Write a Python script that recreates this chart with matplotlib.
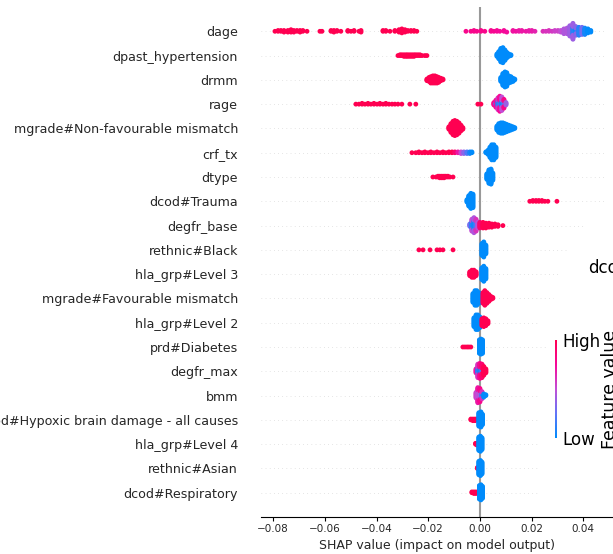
import numpy as np
import matplotlib.pyplot as plt
from matplotlib.colors import LinearSegmentedColormap

# feature names, top to bottom
features = [
    "dage", "dpast_hypertension", "drmm", "rage",
    "mgrade#Non-favourable mismatch", "crf_tx", "dtype", "dcod#Trauma",
    "degfr_base", "rethnic#Black", "hla_grp#Level 3",
    "mgrade#Favourable mismatch", "hla_grp#Level 2", "prd#Diabetes",
    "degfr_max", "bmm", "dcod#Hypoxic brain damage - all causes",
    "hla_grp#Level 4", "rethnic#Asian", "dcod#Respiratory",
]

# (shap value, number of samples, feature value 0=low 1=high)
dage_pts = [
    (-0.0793, 1, 1), (-0.0781, 2, 1), (-0.0770, 2, 1), (-0.0758, 3, 1),
    (-0.0743, 3, 1), (-0.0731, 4, 1), (-0.0720, 3, 1), (-0.0708, 2, 1),
    (-0.0696, 3, 1), (-0.0685, 2, 1), (-0.0669, 1, 1), (-0.0619, 1, 1),
    (-0.0611, 1, 1), (-0.0576, 2, 1), (-0.0565, 3, 1), (-0.0553, 2, 1),
    (-0.0538, 1, 1), (-0.0511, 2, 1), (-0.0499, 1, 1), (-0.0487, 2, 1),
    (-0.0468, 1, 1), (-0.0460, 2, 1), (-0.0375, 2, 1), (-0.0364, 2, 1),
    (-0.0348, 1, 1), (-0.0329, 2, 1), (-0.0313, 4, 1), (-0.0302, 6, 1),
    (-0.0290, 4, 1), (-0.0279, 2, 1), (-0.0267, 2, 1), (-0.0255, 2, 1),
    (-0.0244, 1, 1),
    (-0.0054, 1, 0.8), (-0.0035, 1, 0.8), (-0.0023, 2, 0.8), (-0.0012, 1, 0.8),
    (0.0004, 2, 0.8), (0.0019, 1, 0.8), (0.0043, 2, 0.78), (0.0054, 1, 0.78),
    (0.0066, 2, 0.76), (0.0077, 1, 0.75), (0.0093, 2, 0.75), (0.0104, 1, 0.74),
    (0.0128, 2, 0.72), (0.0139, 1, 0.72), (0.0151, 2, 0.7), (0.0162, 2, 0.7),
    (0.0178, 1, 0.7), (0.0190, 2, 0.68), (0.0201, 2, 0.68), (0.0213, 1, 0.66),
    (0.0244, 1, 0.62), (0.0255, 1, 0.6), (0.0267, 2, 0.6), (0.0279, 1, 0.58),
    (0.0290, 2, 0.55), (0.0302, 2, 0.55), (0.0313, 3, 0.5), (0.0325, 4, 0.45),
    (0.0337, 8, 0.45), (0.0348, 14, 0.4), (0.0360, 10, 0.1), (0.0360, 11, 0.4),
    (0.0371, 6, 0.05), (0.0371, 6, 0.35), (0.0383, 11, 0.1), (0.0395, 10, 0.3),
    (0.0406, 9, 0.05), (0.0418, 6, 0.0), (0.0429, 3, 0.0),
]
dpast_hypertension_pts = [
    (-0.0317, 1, 1), (-0.0309, 2, 1), (-0.0302, 2, 1), (-0.0294, 3, 1),
    (-0.0286, 3, 1), (-0.0279, 3, 1), (-0.0271, 3, 1), (-0.0263, 3, 1),
    (-0.0255, 3, 1), (-0.0248, 2, 1), (-0.0240, 2, 1), (-0.0232, 2, 1),
    (-0.0224, 1, 1), (-0.0213, 1, 1), (-0.0205, 1, 1),
    (0.0066, 4, 0), (0.0073, 10, 0), (0.0081, 18, 0), (0.0089, 20, 0),
    (0.0097, 14, 0), (0.0104, 8, 0), (0.0112, 4, 0), (0.0120, 2, 0),
]
drmm_pts = [
    (-0.0205, 3, 1), (-0.0197, 6, 1), (-0.0190, 9, 1), (-0.0182, 10, 1),
    (-0.0174, 10, 1), (-0.0166, 9, 1), (-0.0159, 7, 1), (-0.0151, 4, 1),
    (-0.0143, 2, 1),
    (0.0081, 6, 0), (0.0089, 16, 0), (0.0097, 20, 0), (0.0104, 18, 0),
    (0.0112, 10, 0), (0.0120, 8, 0), (0.0128, 5, 0), (0.0135, 2, 0),
]
rage_pts = [
    (-0.0480, 1, 1), (-0.0468, 1, 1), (-0.0456, 2, 1), (-0.0445, 1, 1),
    (-0.0433, 2, 1), (-0.0422, 1, 1), (-0.0410, 2, 1), (-0.0398, 1, 1),
    (-0.0387, 2, 1), (-0.0375, 1, 1), (-0.0364, 2, 1), (-0.0352, 1, 1),
    (-0.0340, 1, 1), (-0.0329, 1, 1), (-0.0317, 1, 1), (-0.0302, 1, 1),
    (-0.0271, 1, 1), (-0.0248, 1, 1), (-0.0008, 1, 1), (0.0004, 1, 1),
    (0.0054, 4, 0.8), (0.0062, 4, 0.2), (0.0062, 6, 0.75), (0.0070, 8, 0.1),
    (0.0070, 8, 0.6), (0.0077, 8, 0.15), (0.0077, 12, 0.75), (0.0085, 8, 0.05),
    (0.0085, 10, 0.5), (0.0093, 6, 0.2), (0.0093, 6, 0.8), (0.0101, 4, 0.4),
]
mgrade_nonfav_pts = [
    (-0.0120, 4, 1), (-0.0112, 12, 1), (-0.0104, 18, 1), (-0.0097, 20, 1),
    (-0.0089, 18, 1), (-0.0081, 14, 1), (-0.0073, 8, 1), (-0.0066, 3, 1),
    (0.0066, 6, 0), (0.0073, 12, 0), (0.0081, 14, 0), (0.0089, 14, 0),
    (0.0097, 12, 0), (0.0104, 10, 0), (0.0112, 8, 0), (0.0120, 6, 0),
    (0.0128, 4, 0), (0.0135, 2, 0),
]
crf_tx_pts = [
    (-0.0263, 1, 1), (-0.0248, 1, 1), (-0.0236, 2, 1), (-0.0224, 1, 1),
    (-0.0213, 2, 1), (-0.0201, 1, 1), (-0.0190, 2, 1), (-0.0178, 1, 1),
    (-0.0166, 2, 1), (-0.0155, 1, 1), (-0.0143, 2, 1), (-0.0132, 1, 1),
    (-0.0120, 2, 1), (-0.0108, 2, 1), (-0.0097, 2, 0.9), (-0.0085, 2, 0.7),
    (-0.0073, 3, 0.5), (-0.0062, 3, 0.35), (-0.0050, 3, 0.2), (-0.0039, 3, 0.05),
    (-0.0031, 2, 0),
    (0.0023, 2, 0), (0.0031, 6, 0), (0.0039, 14, 0), (0.0046, 20, 0),
    (0.0054, 20, 0), (0.0062, 14, 0),
]
dtype_pts = [
    (-0.0182, 1, 1), (-0.0170, 1, 1), (-0.0162, 2, 1), (-0.0155, 3, 1),
    (-0.0147, 3, 1), (-0.0139, 3, 1), (-0.0132, 2, 1), (-0.0124, 2, 1),
    (-0.0116, 1, 1), (-0.0104, 1, 1),
    (0.0027, 8, 0), (0.0035, 18, 0), (0.0043, 20, 0), (0.0050, 10, 0),
]
dcod_trauma_pts = [
    (-0.0050, 4, 0), (-0.0043, 14, 0), (-0.0035, 20, 0), (-0.0027, 18, 0),
    (0.0193, 1, 1), (0.0205, 2, 1), (0.0217, 2, 1), (0.0228, 2, 1),
    (0.0240, 2, 1), (0.0251, 1, 1), (0.0263, 1, 1), (0.0298, 1, 1),
]
degfr_base_pts = [
    (-0.0039, 4, 0.3), (-0.0031, 10, 0.1), (-0.0031, 6, 0.5), (-0.0023, 12, 0.05),
    (-0.0023, 8, 0.45), (-0.0015, 10, 0.2), (-0.0015, 6, 0.6), (-0.0008, 8, 0.5),
    (0.0000, 8, 0.9), (0.0012, 8, 1), (0.0023, 7, 1), (0.0035, 6, 1),
    (0.0046, 5, 1), (0.0058, 4, 1), (0.0070, 3, 1), (0.0089, 1, 1),
]
rethnic_black_pts = [
    (-0.0236, 1, 1), (-0.0220, 1, 1), (-0.0193, 1, 1), (-0.0166, 1, 1),
    (-0.0155, 1, 1), (-0.0143, 1, 1), (-0.0104, 1, 1),
    (0.0008, 16, 0), (0.0015, 20, 0), (0.0023, 12, 0),
]
hla_level3_pts = [
    (-0.0039, 6, 1), (-0.0031, 10, 1), (-0.0023, 10, 1), (-0.0015, 6, 1),
    (0.0008, 16, 0), (0.0015, 20, 0), (0.0023, 14, 0),
]
mgrade_fav_pts = [
    (-0.0027, 10, 0), (-0.0019, 16, 0), (-0.0012, 16, 0), (-0.0004, 12, 0),
    (0.0012, 12, 1), (0.0019, 16, 1), (0.0027, 12, 1), (0.0035, 8, 1),
    (0.0043, 4, 1), (0.0050, 2, 1),
]
hla_level2_pts = [
    (-0.0023, 10, 0), (-0.0015, 16, 0), (-0.0008, 16, 0), (0.0000, 12, 0),
    (0.0008, 8, 1), (0.0015, 10, 1), (0.0023, 8, 1), (0.0031, 4, 1),
]
prd_diabetes_pts = [
    (-0.0066, 1, 1), (-0.0058, 1, 1), (-0.0050, 1, 1), (-0.0043, 1, 1),
    (-0.0035, 1, 1),
    (-0.0002, 18, 0), (0.0004, 20, 0), (0.0010, 18, 0),
]
degfr_max_pts = [
    (-0.0015, 6, 0.7), (-0.0008, 8, 0.1), (-0.0008, 10, 0.6), (0.0000, 8, 0.05),
    (0.0000, 12, 0.8), (0.0008, 6, 0.2), (0.0008, 12, 0.9), (0.0015, 12, 1.0),
    (0.0023, 6, 1.0),
]
bmm_pts = [
    (-0.0015, 8, 0.55), (-0.0008, 12, 0.5), (-0.0008, 8, 0.7), (0.0000, 10, 0.45),
    (0.0000, 8, 0.8), (0.0008, 6, 0.1), (0.0008, 4, 0.6), (0.0015, 5, 0.0),
    (0.0023, 2, 0.0),
]
dcod_hypoxic_pts = [
    (-0.0035, 2, 1), (-0.0027, 3, 1), (-0.0019, 3, 1), (-0.0012, 2, 1),
    (-0.0004, 18, 0), (0.0004, 20, 0), (0.0010, 14, 0),
]
hla_level4_pts = [
    (-0.0017, 2, 1), (-0.0012, 3, 1),
    (-0.0004, 18, 0), (0.0002, 20, 0), (0.0008, 16, 0),
]
rethnic_asian_pts = [
    (-0.0010, 2, 1),
    (-0.0004, 18, 0), (0.0002, 20, 0), (0.0008, 16, 0),
]
dcod_respiratory_pts = [
    (-0.0031, 2, 1), (-0.0023, 3, 1), (-0.0015, 3, 1), (-0.0008, 1, 1),
    (-0.0002, 18, 0), (0.0004, 20, 0), (0.0010, 16, 0),
]

feature_points = [
    dage_pts, dpast_hypertension_pts, drmm_pts, rage_pts, mgrade_nonfav_pts,
    crf_tx_pts, dtype_pts, dcod_trauma_pts, degfr_base_pts, rethnic_black_pts,
    hla_level3_pts, mgrade_fav_pts, hla_level2_pts, prd_diabetes_pts,
    degfr_max_pts, bmm_pts, dcod_hypoxic_pts, hla_level4_pts,
    rethnic_asian_pts, dcod_respiratory_pts,
]

# where each dotted row line stops (right side is partly covered in the original)
grid_end = [0.0484] * 8 + [0.0406, 0.0341, 0.0302, 0.0282, 0.0224, 0.0259] + [0.0224] * 6

cmap = LinearSegmentedColormap.from_list(
    "red_blue", ["#008bfb", "#6274f7", "#c24fd5", "#f60899", "#ff0051"])

row_height = 0.4


def swarm(vals):
    # same stacking as the shap beeswarm
    nbins = 100
    quant = np.round(nbins * (vals - vals.min()) / (vals.max() - vals.min() + 1e-8))
    inds = np.argsort(quant, kind="stable")
    ys = np.zeros(len(vals))
    layer = 0
    last_bin = -1
    for ind in inds:
        if quant[ind] != last_bin:
            layer = 0
        ys[ind] = np.ceil(layer / 2) * ((layer % 2) * 2 - 1)
        layer += 1
        last_bin = quant[ind]
    ys *= 0.9 * (row_height / np.max(ys + 1))
    return ys


fig = plt.figure(figsize=(6.13, 5.54), dpi=100)
ax = fig.add_axes([261 / 613, 37 / 554, 352 / 613, 510 / 554])

n = len(features)
xmin, xmax = -0.0847, 0.0515

for k, pts in enumerate(feature_points):
    pos = n - 1 - k
    vals = np.repeat([p[0] for p in pts], [p[1] for p in pts])
    fv = np.repeat([p[2] for p in pts], [p[1] for p in pts])
    ys = swarm(vals)
    ax.plot([xmin, grid_end[k]], [pos, pos], color="#cccccc", lw=0.5,
            dashes=(1, 5), zorder=-1)
    ax.scatter(vals, pos + ys, c=fv, cmap=cmap, vmin=0, vmax=1, s=12,
               linewidths=0, zorder=3, rasterized=True)

ax.axvline(0, color="#999999", zorder=-1)

ax.set_xlim(xmin, xmax)
ax.set_ylim(-1, n)
ax.set_yticks(range(n))
ax.set_yticklabels(features[::-1], fontsize=9.1, color="#262626")
ax.tick_params("y", length=0, pad=16.5)
ax.set_xticks([-0.08, -0.06, -0.04, -0.02, 0.00, 0.02, 0.04])
ax.set_xticklabels(["\u22120.08", "\u22120.06", "\u22120.04", "\u22120.02",
                    "0.00", "0.02", "0.04"])
ax.tick_params("x", labelsize=7.5, labelcolor="#262626", length=3, pad=2)
ax.set_xlabel("SHAP value (impact on model output)", fontsize=9,
              color="#262626", labelpad=3.5)
for side in ["top", "right", "left"]:
    ax.spines[side].set_visible(False)

# colour bar
cax = fig.add_axes([554.5 / 613, 116 / 554, 2.5 / 613, 98 / 554])
sm = plt.cm.ScalarMappable(cmap=cmap)
sm.set_array([0, 1])
cb = fig.colorbar(sm, cax=cax, ticks=[0, 1])
cb.set_ticklabels(["Low", "High"])
cb.ax.tick_params(labelsize=12, length=0, pad=4)
cb.set_label("Feature value", size=12.5, labelpad=0)
cb.outline.set_visible(False)

fig.text(588 / 613, 1 - 268 / 554, "dcod", fontsize=12, va="center", ha="left")

fig.savefig("out.png", dpi=100)
